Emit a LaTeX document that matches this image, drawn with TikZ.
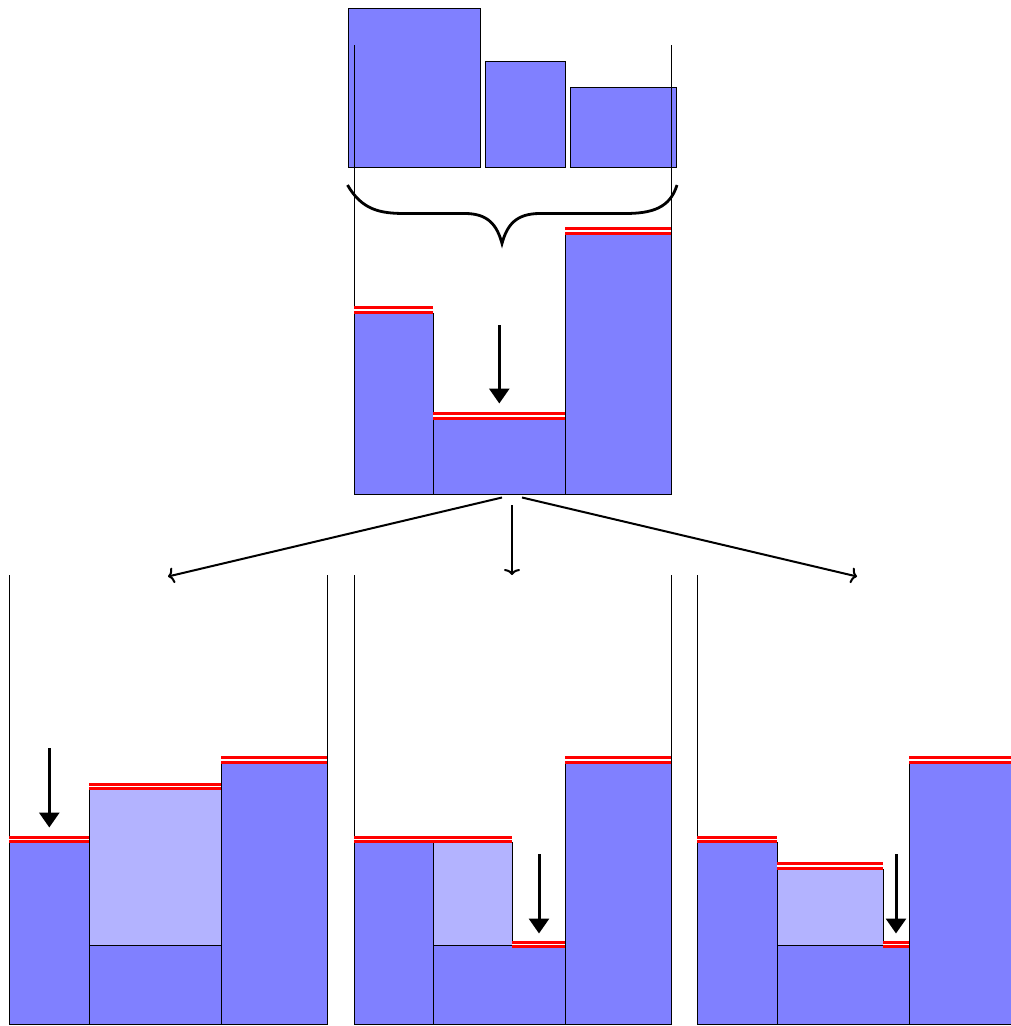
\documentclass[tikz,border=0pt]{standalone}
\usetikzlibrary{arrows.meta}
\definecolor{barblue}{HTML}{8080FF}
\definecolor{waterblue}{HTML}{B3B3FF}
\tikzset{
  wall/.style={line width=1pt},
  bar/.style={fill=barblue, draw=black, line width=1pt},
  water/.style={fill=waterblue, draw=black, line width=1pt},
  level/.style={draw=red, double=white, line width=3pt, double distance=1.7pt},
  drop/.style={line width=3pt, -{Triangle[length=15pt,width=20pt]}},
  conn/.style={line width=2pt, -{To[length=6pt,width=16pt]}},
  brace/.style={line width=2.8pt}
}
\begin{document}
\begin{tikzpicture}[x=1pt,y=-1pt]
\useasboundingbox (0,0) rectangle (1011,1026);
\clip (0,0) rectangle (1011,1026);
% ---------- top: three blocks ----------
\draw[bar] (348,8) rectangle (480.5,167);
\draw[bar] (485.5,61) rectangle (565.5,167);
\draw[bar] (570.5,87.5) rectangle (676.5,167);
% brace
\draw[brace] (347.5,185) .. controls (362,210) and (380,213.5) .. (405,213.5)
  -- (465,213.5) .. controls (488,213.5) and (497,225) .. (502,243.5)
  .. controls (507,225) and (516,213.5) .. (540,213.5)
  -- (625,213.5) .. controls (652,213.5) and (670,208) .. (677,185);
% ---------- top panel ----------
\draw[bar] (354,313) rectangle (433,494);
\draw[bar] (433,419) rectangle (565,494);
\draw[bar] (565,234) rectangle (671,494);
\draw[wall] (354,45) -- (354,494) -- (671,494) -- (671,45);
\draw[level] (354,310) -- (433,310);
\draw[level] (433,416) -- (565,416);
\draw[level] (565,231) -- (671,231);
\coordinate (a0s) at (499.3,325);
\coordinate (a0e) at (499.3,403.5);
\draw[drop] (a0s) -- (a0e);
% ---------- connectors ----------
\coordinate (cLs) at (502,497.5);
\coordinate (cLe) at (168,576.5);
\coordinate (cMs) at (512,505);
\coordinate (cMe) at (512,575);
\coordinate (cRs) at (522,497.5);
\coordinate (cRe) at (857,576.5);
\draw[conn] (cLs) -- (cLe);
\draw[conn] (cMs) -- (cMe);
\draw[conn] (cRs) -- (cRe);
% ---------- panel 1 ----------
\draw[bar] (9,842.5) rectangle (89,1024);
\draw[water] (89,789.5) rectangle (221,945);
\draw[bar] (89,945) rectangle (221,1024);
\draw[bar] (221,763) rectangle (327,1024);
\draw[wall] (9,575) -- (9,1024) -- (327,1024) -- (327,575);
\draw[level] (9,839.5) -- (89,839.5);
\draw[level] (89,786.5) -- (221,786.5);
\draw[level] (221,760) -- (327,760);
\coordinate (a1s) at (49.3,748);
\coordinate (a1e) at (49.3,827.5);
\draw[drop] (a1s) -- (a1e);
% ---------- panel 2 ----------
\draw[bar] (354,842.5) rectangle (433,1024);
\draw[water] (433,842.5) rectangle (512,945);
\draw[bar] (433,945) rectangle (565,1024);
\draw[bar] (565,763) rectangle (671,1024);
\draw[wall] (354,575) -- (354,1024) -- (671,1024) -- (671,575);
\draw[level] (354,839.5) -- (512,839.5);
\draw[level] (512,944.5) -- (565,944.5);
\draw[level] (565,760) -- (671,760);
\coordinate (a2s) at (539,854);
\coordinate (a2e) at (539,933.5);
\draw[drop] (a2s) -- (a2e);
% ---------- panel 3 ----------
\draw[bar] (697,842.5) rectangle (777,1024);
\draw[water] (777,869) rectangle (883,945);
\draw[bar] (777,945) rectangle (909,1024);
\draw[bar] (909,763) rectangle (1016,1024);
\draw[wall] (697,575) -- (697,1024) -- (1016,1024);
\draw[level] (697,839.5) -- (777,839.5);
\draw[level] (777,866) -- (883,866);
\draw[level] (883,944.5) -- (909,944.5);
\draw[level] (909,760) -- (1016,760);
\coordinate (a3s) at (896,854);
\coordinate (a3e) at (896,933.5);
\draw[drop] (a3s) -- (a3e);
\end{tikzpicture}
\end{document}
